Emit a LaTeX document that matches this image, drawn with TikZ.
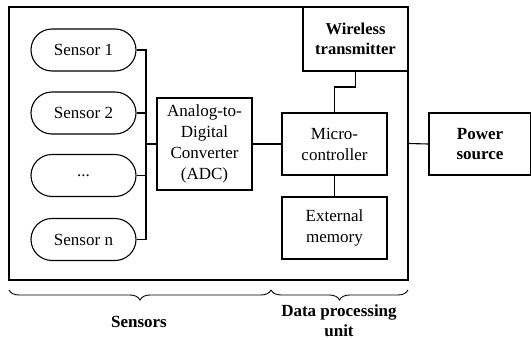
\documentclass[tikz,border=0pt]{standalone}
\usepackage{fontspec}
\setmainfont{Liberation Serif}
\usetikzlibrary{decorations.pathreplacing,calc}
\begin{document}
\begin{tikzpicture}[x=1pt,y=1pt,
  line width=1.1pt,
  txt/.style={font=\rmfamily\fontsize{17}{21}\selectfont, align=center, inner sep=0pt},
  bld/.style={font=\rmfamily\bfseries\fontsize{17}{20.5}\selectfont},
  blk/.style={txt, draw, minimum width=105, minimum height=62},
  pill/.style={txt, draw, rounded corners=21, minimum width=105, minimum height=42},
  brc/.style={decorate, decoration={brace, mirror, amplitude=10}, line width=0.9pt}]
\useasboundingbox (0,0) rectangle (531,-340);

% enclosing unit
\node[draw, minimum width=399, minimum height=273, inner sep=0pt] (unit) at (208.5,-143.5) {};

% sensors
\node[pill] (s1) at (83.5,-50) {Sensor 1};
\node[pill] (s2) at (83.5,-113) {Sensor 2};
\node[pill] (s3) at (83.5,-175.5) {...};
\node[pill] (sn) at (83.5,-239.5) {Sensor n};

% processing blocks
\node[blk, minimum width=95, minimum height=92] (adc) at (204.5,-144) {Analog-to-\\Digital\\Converter\\(ADC)};
\node[blk] (mcu) at (334.5,-144) {Micro-\\controller};
\node[blk] (mem) at (334.5,-228) {External\\memory};
\node[blk, minimum height=64, font=\rmfamily\bfseries\fontsize{16.5}{20}\selectfont] (wtx) at (355.5,-39) {Wireless\\transmitter};
\node[blk, bld, minimum width=102] (pwr) at (480,-144) {Power\\source};

% sensor bus
\coordinate (bus) at (146,0);
\draw (s1.east) -- (s1.east -| bus) -- (sn.east -| bus) -- (sn.east);
\draw (s2.east) -- (s2.east -| bus);
\draw (s3.east) -- (s3.east -| bus);
\draw (adc.west) -- (adc.west -| bus);

% data links
\draw (adc.east) -- (mcu.west);
\coordinate (jog) at (0,-87);
\draw (mcu.north) -- (mcu.north |- jog) -| (wtx.south);
\draw (mcu.south) -- (mem.north);
\draw (unit.east) -- (pwr.west);

% group braces
\coordinate (b0) at (9,-290);
\coordinate (b1) at (271,-290);
\coordinate (b2) at (408,-290);
\draw[brc] (b0) -- (b1);
\draw[brc] (b1) -- (b2);
\node[txt, bld] (lsen) at (139,-322) {Sensors};
\node[txt, bld] (ldpu) at (339,-320.5) {Data processing\\unit};
\end{tikzpicture}
\end{document}
